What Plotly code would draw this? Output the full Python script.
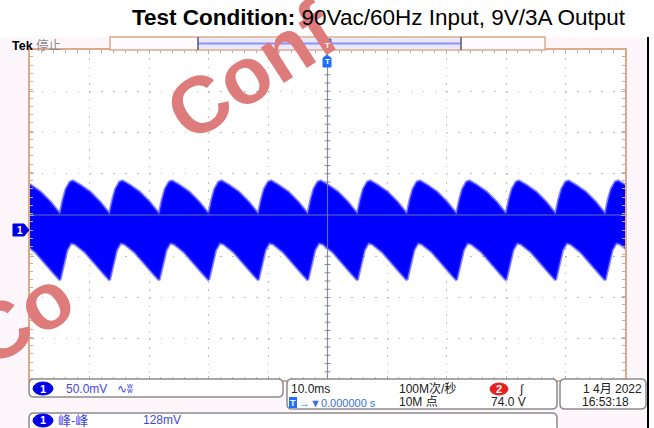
import plotly.graph_objects as go

# scope screen 654 x 428, graticule 10 x 8 divisions
W, H = 654, 428
FONT = "Liberation Sans, Noto Sans CJK SC, sans-serif"

# time (ms) of each ripple trough at 120 Hz
cycle_start_ms = [-53.29, -44.96, -36.63, -28.30, -19.97, -11.64, -3.31,
                  5.02, 13.35, 21.68, 30.01, 38.34, 46.67]
# envelope of one ripple cycle (ms after trough, mV)
upper_offset_ms = [0.0, 0.50, 1.01, 1.68, 2.18, 3.36, 5.04, 6.72, 7.73]
upper_mv = [19.4, 36.4, 49.7, 58.2, 59.4, 54.5, 46.1, 33.9, 24.2]
lower_offset_ms = [0.0, 0.50, 1.18, 1.85, 2.52, 4.20, 5.88, 7.56]
lower_mv = [-60.6, -43.6, -24.2, -15.8, -17.0, -26.7, -40.0, -54.5]

# scope settings
volts_per_div = 50.0   # mV
time_per_div = 10.0    # ms
ch1_offset_div = 0.3636  # ground marker below centre

y_top = 4 * volts_per_div + ch1_offset_div * volts_per_div
y_bot = -4 * volts_per_div + ch1_offset_div * volts_per_div
y_mid = ch1_offset_div * volts_per_div


def X(px):
    return px / W


def Y(py):
    return 1 - py / H


# build envelope polygon
up_t, up_v, lo_t, lo_v = [], [], [], []
for t0 in cycle_start_ms:
    for dt, v in zip(upper_offset_ms, upper_mv):
        up_t.append(t0 + dt)
        up_v.append(v)
    for dt, v in zip(lower_offset_ms, lower_mv):
        lo_t.append(t0 + dt)
        lo_v.append(v)

fig = go.Figure()
fig.add_trace(go.Scatter(
    x=up_t + lo_t[::-1], y=up_v + lo_v[::-1],
    fill="toself", fillcolor="#0000ff", mode="lines",
    line=dict(color="rgba(30,30,255,0.55)", width=3),
    hoverinfo="skip", showlegend=False))

fig.update_layout(
    width=W, height=H,
    margin=dict(l=0, r=0, t=0, b=0),
    paper_bgcolor="#fdf7fc",
    plot_bgcolor="white",
    showlegend=False,
)
fig.update_xaxes(
    domain=[X(30), X(625)], range=[-5 * time_per_div, 5 * time_per_div],
    tick0=0, dtick=time_per_div, showticklabels=False,
    showgrid=True, gridcolor="#b9b9b9", gridwidth=1, griddash="1.5px,6.75px",
    zeroline=False, showline=True, linecolor="#dcaa8a", linewidth=2,
    mirror="allticks", ticks="inside", ticklen=4, tickcolor="#b4b4b4",
    minor=dict(dtick=time_per_div / 5, ticks="inside", ticklen=3,
               tickcolor="#b4b4b4", showgrid=False),
)
fig.update_yaxes(
    domain=[Y(380), Y(50)], range=[y_bot, y_top],
    tick0=y_mid, dtick=volts_per_div, showticklabels=False,
    showgrid=True, gridcolor="#b9b9b9", gridwidth=1, griddash="1.5px,10.4px",
    zeroline=False, showline=True, linecolor="#dcaa8a", linewidth=2,
    mirror="allticks", ticks="inside", ticklen=4, tickcolor="#b4b4b4",
    minor=dict(dtick=volts_per_div / 5, ticks="inside", ticklen=3,
               tickcolor="#b4b4b4", showgrid=False),
)

shapes = []

# centre cross of graticule
shapes.append(dict(type="line", xref="x", yref="y", x0=0, x1=0, y0=y_bot, y1=y_top,
                   line=dict(color="rgba(120,125,140,0.85)", width=1.2), layer="above"))
shapes.append(dict(type="line", xref="x", yref="y", x0=-50, x1=50, y0=y_mid, y1=y_mid,
                   line=dict(color="rgba(150,150,150,0.7)", width=1), layer="above"))
for i in range(1, 40):
    yy = y_bot + i * volts_per_div / 5
    shapes.append(dict(type="line", xref="x", yref="y", x0=-0.5, x1=0.5, y0=yy, y1=yy,
                       line=dict(color="#8a8f9a", width=1), layer="below"))
for i in range(1, 50):
    xx = -50 + i * time_per_div / 5
    shapes.append(dict(type="line", xref="x", yref="y", x0=xx, x1=xx,
                       y0=y_mid - 4, y1=y_mid + 4,
                       line=dict(color="#8a8f9a", width=1), layer="below"))


def rrect(x0, y0, x1, y1, r, line="#8c8c8c", fill="white", width=1.5):
    p = (f"M {X(x0 + r)},{Y(y0)} L {X(x1 - r)},{Y(y0)} Q {X(x1)},{Y(y0)} {X(x1)},{Y(y0 + r)} "
         f"L {X(x1)},{Y(y1 - r)} Q {X(x1)},{Y(y1)} {X(x1 - r)},{Y(y1)} "
         f"L {X(x0 + r)},{Y(y1)} Q {X(x0)},{Y(y1)} {X(x0)},{Y(y1 - r)} "
         f"L {X(x0)},{Y(y0 + r)} Q {X(x0)},{Y(y0)} {X(x0 + r)},{Y(y0)} Z")
    shapes.append(dict(type="path", xref="paper", yref="paper", path=p,
                       line=dict(color=line, width=width), fillcolor=fill, layer="above"))


def poly(pts, fill, line=None):
    p = "M " + " L ".join(f"{X(a)},{Y(b)}" for a, b in pts) + " Z"
    shapes.append(dict(type="path", xref="paper", yref="paper", path=p,
                       line=dict(color=line or fill, width=1), fillcolor=fill, layer="above"))


def ellipse(x0, y0, x1, y1, fill):
    shapes.append(dict(type="circle", xref="paper", yref="paper",
                       x0=X(x0), x1=X(x1), y0=Y(y1), y1=Y(y0),
                       line=dict(color=fill, width=1), fillcolor=fill, layer="above"))


def rect(x0, y0, x1, y1, fill, line=None, width=1):
    shapes.append(dict(type="rect", xref="paper", yref="paper",
                       x0=X(x0), x1=X(x1), y0=Y(y1), y1=Y(y0),
                       line=dict(color=line or fill, width=width if line else 0),
                       fillcolor=fill, layer="above"))


# white strip above the scope screen and right edge
rect(0, 0, W, 37, "white")
rect(648, 37, W, H, "white")
shapes.append(dict(type="line", xref="paper", yref="paper", x0=X(648), x1=X(648),
                   y0=Y(37), y1=Y(H), line=dict(color="black", width=2), layer="above"))

# record view bar
rect(110, 37, 545, 50, "#fefafd", line="#dcaa8a", width=1.5)
rect(198, 38, 461, 49, "#e8e8ff")
shapes.append(dict(type="line", xref="paper", yref="paper", x0=X(198), x1=X(461),
                   y0=Y(43.5), y1=Y(43.5), line=dict(color="#9090ff", width=2), layer="above"))
for xe in (198, 461):
    shapes.append(dict(type="line", xref="paper", yref="paper", x0=X(xe), x1=X(xe),
                       y0=Y(37), y1=Y(50), line=dict(color="#4f5a70", width=1.5), layer="above"))

# trigger position markers
poly([(323, 39), (331, 39), (331, 48), (327, 52), (323, 48)], "#1e6eff")
poly([(327, 55), (331, 58), (331, 67), (323, 67), (323, 58)], "#1e6eff")

# channel 1 ground marker
poly([(13, 224), (24, 224), (29, 230), (24, 236), (13, 236)], "#0000e6")

# bottom readout boxes
rrect(29, 379, 283, 397, 5)
rrect(287, 379, 557, 409, 5)
rrect(560, 379, 646, 409, 5)
rrect(29, 413, 557, 440, 5)
ellipse(33, 382, 53, 395, "#0000e6")
ellipse(33, 414, 53, 427, "#0000e6")
ellipse(490, 383, 508, 395, "#e61e1e")
rect(289, 397, 297, 408, "#1e6eff")

fig.update_layout(shapes=shapes)


def txt(x, y, s, size=12, color="#000000", xanchor="left", weight="normal",
        family=FONT, angle=0):
    fig.add_annotation(x=X(x), y=Y(y), xref="paper", yref="paper", text=s,
                       showarrow=False, xanchor=xanchor, yanchor="middle",
                       textangle=angle, borderpad=0,
                       font=dict(size=size, color=color, family=family, weight=weight))


# watermark (only the letters that show in the picture)
txt(251, 71, "Conf", size=80, color="#de7c7c", xanchor="center",
    weight="bold", angle=-33)
txt(20, 317, "Co", size=80, color="#de7c7c", xanchor="center",
    weight="bold", angle=-33)

# title
txt(379, 18, "<b>Test Condition:</b> 90Vac/60Hz Input, 9V/3A Output",
    size=22.5, xanchor="center")
txt(11, 46, "<b>Tek</b> <span style='color:#8a8a8a'>停止</span>", size=12.5)

# markers text
txt(327, 45, "T", size=8, color="white", xanchor="center", weight="bold")
txt(327, 62, "T", size=8, color="white", xanchor="center", weight="bold")
txt(20, 230, "1", size=10, color="white", xanchor="center", weight="bold")

# channel readout
BLUE = "#4646e6"
txt(43, 389, "1", size=11, color="white", xanchor="center", weight="bold")
txt(65, 389, "50.0mV", size=12, color=BLUE)
txt(116, 389, "∿ʬ", size=12, color=BLUE)

# horizontal / acquisition / trigger readout
txt(290, 389, "10.0ms", size=12, color="#202020")
txt(293, 403, "T", size=9, color="white", xanchor="center", weight="bold")
txt(298, 403, "→▼0.000000 s", size=11, color="#3c6ee6")
txt(398, 389, "100M次/秒", size=12, color="#202020")
txt(398, 402, "10M 点", size=12, color="#202020")
txt(499, 389, "2", size=11, color="white", xanchor="center", weight="bold")
txt(518, 389, "∫", size=12, color="#202020")
txt(527, 402, "74.0 V", size=12, color="#202020", xanchor="right")

# date and time
txt(643, 389, "1 4月 2022", size=12, color="#202020", xanchor="right")
txt(605, 402, "16:53:18", size=12, color="#202020", xanchor="center")

# measurement
txt(43, 420, "1", size=11, color="white", xanchor="center", weight="bold")
txt(57, 420, "峰-峰", size=13, color=BLUE)
txt(142, 420, "128mV", size=12, color=BLUE)

fig.write_html("out.html", config={"displayModeBar": False},
               post_script="document.body.style.margin='0';")
